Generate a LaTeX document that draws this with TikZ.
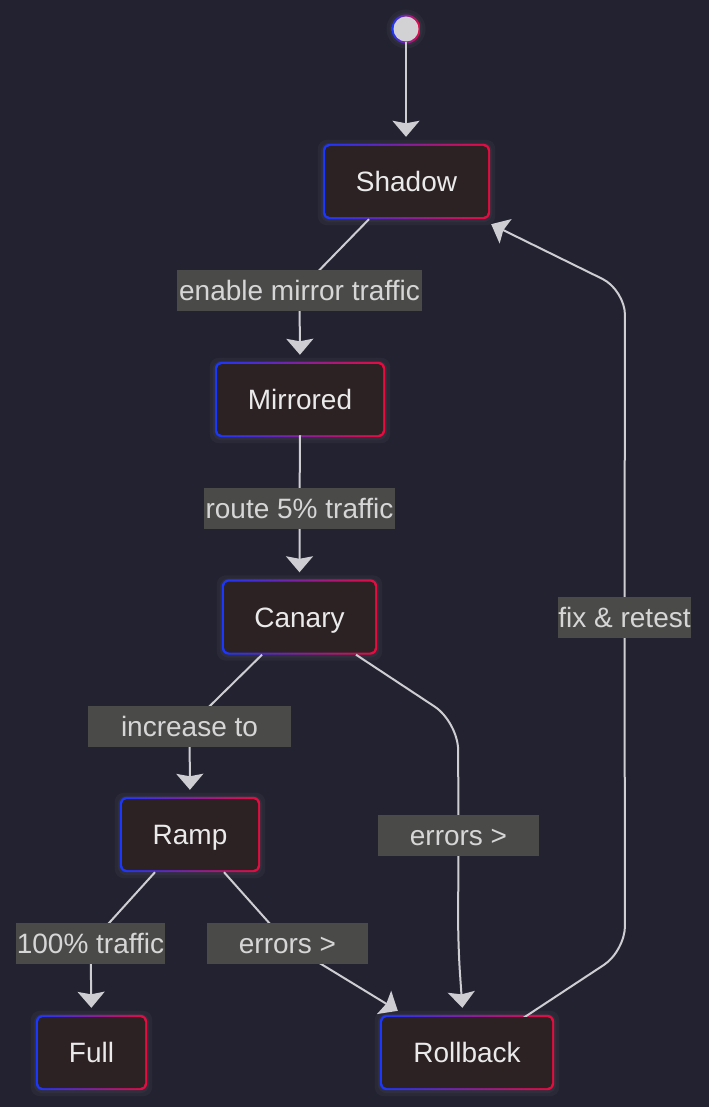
\documentclass[tikz,border=0pt]{standalone}
\usepackage{fontspec}
\setmainfont{Liberation Sans}
\usetikzlibrary{arrows.meta,calc,backgrounds}
\pgfdeclarelayer{edges}
\pgfsetlayers{background,edges,main}
\definecolor{bgc}{RGB}{35,34,49}
\definecolor{nodefill}{RGB}{44,33,35}
\definecolor{lblfill}{RGB}{74,75,73}
\definecolor{txtc}{RGB}{234,234,234}
\definecolor{lbltxt}{RGB}{214,214,214}
\definecolor{linec}{RGB}{205,205,210}
\definecolor{startc}{RGB}{210,210,212}
\definecolor{gblue}{RGB}{25,55,255}
\definecolor{gred}{RGB}{235,10,60}
\begin{document}
\begin{tikzpicture}[x=1pt,y=-1pt,
  font=\fontsize{28}{34}\selectfont,
  state/.style={rectangle, rounded corners=5pt, fill=nodefill, text=txtc, minimum height=71pt, inner sep=0pt, text height=20pt, text depth=0pt},
  lbl/.style={rectangle, fill=lblfill, text=lbltxt, minimum height=41pt, inner sep=0pt, text height=20pt, text depth=0pt},
  arr/.style={draw=linec, line width=2pt, -{Stealth[length=16pt,width=27pt,inset=2.5pt]}, shorten >=9pt},
  glow/.style={fill=gray!60!white, opacity=0.05}
]
\begin{pgfonlayer}{background}
\fill[bgc] (0,0) rectangle (709,1107);
\end{pgfonlayer}
\useasboundingbox (0,0) rectangle (709,1107);

% states
\node[circle, fill=startc, minimum size=25pt, inner sep=0pt, text height=, text depth=] (start) at (406,29) {};
\node[state, minimum width=163pt] (shadow) at (406.5,181.5) {Shadow};
\node[state, minimum width=166pt] (mirrored) at (300,399.5) {Mirrored};
\node[state, minimum width=151pt] (canary) at (299.5,617) {Canary};
\node[state, minimum width=136pt] (ramp) at (190,834.5) {Ramp};
\node[state, minimum width=107pt] (full) at (91.5,1052.5) {Full};
\node[state, minimum width=170pt] (rollback) at (467,1052.5) {Rollback};

% gradient borders and glow
\begin{pgfonlayer}{background}
\foreach \n in {shadow,mirrored,canary,ramp,full,rollback}{
  \foreach \d in {4,7}{
    \fill[glow, rounded corners=9pt] ($(\n.south west)+(-\d,\d+1)$) rectangle ($(\n.north east)+(\d,-\d+1)$);
  }
  \shade[left color=gblue, right color=gred, rounded corners=7pt] ($(\n.south west)+(-2,2)$) rectangle ($(\n.north east)+(2,-2)$);
}
\foreach \d in {4,7}{\fill[glow] (start.center) circle ({12.5+\d});}
\shade[left color=gblue, right color=gred] (start.center) circle (14.5);
\end{pgfonlayer}

% edge labels
\node[lbl, minimum width=245pt] (l1) at (299.5,290.5) {enable mirror traffic};
\node[lbl, minimum width=191pt] (l2) at (299.5,508.5) {route 5\% traffic};
\node[lbl, minimum width=203pt] (l3) at (189.5,726) {increase to};
\node[lbl, minimum width=161pt] (l4) at (458.5,835) {errors >};
\node[lbl, minimum width=131pt] (l5) at (624.5,617) {fix \& retest};
\node[lbl, minimum width=149pt] (l6) at (90.5,943.5) {100\% traffic};
\node[lbl, minimum width=161pt] (l7) at (287.5,943.5) {errors >};

\coordinate (rbtip) at ($(rollback.north west)+(16,-6)$);
\coordinate (shtip) at ($(shadow.south east)+(3,7)$);

% connectors
\begin{pgfonlayer}{edges}
\draw[arr] (start.south) -- (start.south |- shadow.north);
\draw[arr] ($(shadow.south)+(-37.5,2)$) -- (l1.center) -- (mirrored.north);
\draw[arr] (mirrored.south) -- (l2.center) -- (canary.north);
\draw[arr] ($(canary.south)+(-37.5,2)$) -- (l3.center) -- (ramp.north);
\draw[arr, rounded corners=28pt] ($(canary.south)+(56.5,2)$) -- (458,722) -- (l4.center) -- (458,945) -- ($(rollback.north)+(-4,0)$);
\draw[arr] ($(ramp.south)+(-35,2)$) -- (l6.center) -- (full.north);
\draw[arr, shorten >=0pt] ($(ramp.south)+(34,2)$) -- (l7.center) -- (rbtip);
\draw[arr, shorten >=0pt, rounded corners=25pt] ($(rollback.north)+(55,2)$) -- (625,951) -- (l5.center) -- (625,290) -- (shtip);
\end{pgfonlayer}
\end{tikzpicture}
\end{document}
